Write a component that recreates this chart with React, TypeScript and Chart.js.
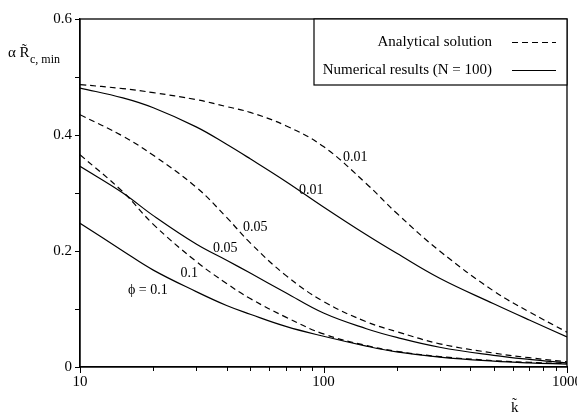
import React, { useEffect, useRef } from "react";
import { Chart, registerables } from "chart.js";

Chart.register(...registerables);

// ---- data ----
const kValues = [10, 15, 20, 30, 40, 50, 70, 100, 150, 200, 300, 500, 700, 1000];

const analytic001 = [0.487, 0.48, 0.473, 0.461, 0.449, 0.439, 0.416, 0.38, 0.316, 0.265, 0.2, 0.131, 0.095, 0.06];
const numeric001 = [0.481, 0.464, 0.447, 0.414, 0.384, 0.359, 0.32, 0.276, 0.228, 0.196, 0.153, 0.109, 0.081, 0.052];
const analytic005 = [0.435, 0.398, 0.365, 0.31, 0.258, 0.214, 0.158, 0.113, 0.078, 0.061, 0.04, 0.024, 0.016, 0.009];
const numeric005 = [0.346, 0.3, 0.261, 0.212, 0.184, 0.162, 0.128, 0.093, 0.066, 0.051, 0.034, 0.02, 0.013, 0.007];
const analytic01 = [0.366, 0.302, 0.246, 0.182, 0.144, 0.118, 0.086, 0.057, 0.037, 0.027, 0.018, 0.011, 0.008, 0.006];
const numeric01 = [0.248, 0.2, 0.167, 0.13, 0.106, 0.091, 0.07, 0.053, 0.036, 0.026, 0.017, 0.01, 0.007, 0.005];

const xMajorTicks = [10, 100, 1000];
const xMinorTicks = [20, 30, 40, 50, 60, 70, 80, 90, 200, 300, 400, 500, 600, 700, 800, 900];

const legendLabels = ["Analytical solution", "Numerical results (N = 100)"];

const curveLabels = [
  { text: "0.01", k: 135, v: 0.361 },
  { text: "0.01", k: 89, v: 0.305 },
  { text: "0.05", k: 52.5, v: 0.24 },
  { text: "0.05", k: 39.5, v: 0.205 },
  { text: "0.1", k: 28.1, v: 0.162 },
  { text: "\u03D5 = 0.1", k: 19.0, v: 0.133 },
];

const SERIF = "'Liberation Serif', 'Times New Roman', serif";
const DASH = [6, 4];

const toPoints = (vals: number[]) => vals.map((v, i) => ({ x: kValues[i], y: v }));

const decorPlugin = {
  id: "decor",
  afterDraw(chart: any) {
    const { ctx, chartArea } = chart;
    const xs = chart.scales.x;
    const { left, right, top, bottom } = chartArea;
    ctx.save();
    ctx.strokeStyle = "#000";
    ctx.fillStyle = "#000";
    ctx.lineWidth = 1.3;
    // frame
    ctx.strokeRect(left, top, right - left, bottom - top);

    // x ticks
    ctx.lineWidth = 1;
    const drawTick = (v: number, len: number) => {
      const px = Math.round(xs.getPixelForValue(v)) + 0.5;
      ctx.beginPath();
      ctx.moveTo(px, bottom);
      ctx.lineTo(px, bottom + len);
      ctx.stroke();
    };
    xMajorTicks.forEach((v) => drawTick(v, 6));
    xMinorTicks.forEach((v) => drawTick(v, 4));

    ctx.font = `15px ${SERIF}`;
    ctx.textAlign = "center";
    ctx.textBaseline = "top";
    xMajorTicks.forEach((v) => {
      ctx.fillText(String(v), xs.getPixelForValue(v), bottom + 8);
    });

    // curve labels
    const ys = chart.scales.y;
    ctx.font = `14px ${SERIF}`;
    ctx.textAlign = "center";
    ctx.textBaseline = "middle";
    curveLabels.forEach((l) => {
      ctx.fillText(l.text, xs.getPixelForValue(l.k), ys.getPixelForValue(l.v));
    });

    // legend box
    const lx0 = 314;
    const ly0 = top;
    const ly1 = 85;
    ctx.lineWidth = 1.2;
    ctx.fillStyle = "#fff";
    ctx.fillRect(lx0, ly0, right - lx0, ly1 - ly0);
    ctx.strokeRect(lx0, ly0, right - lx0, ly1 - ly0);
    ctx.fillStyle = "#000";
    ctx.font = `15px ${SERIF}`;
    ctx.textAlign = "right";
    ctx.textBaseline = "middle";
    const rows = [42, 70];
    legendLabels.forEach((t, i) => {
      ctx.fillText(t, 492, rows[i]);
      ctx.beginPath();
      ctx.setLineDash(i === 0 ? DASH : []);
      ctx.moveTo(512, rows[i] + 0.5);
      ctx.lineTo(556, rows[i] + 0.5);
      ctx.stroke();
    });
    ctx.setLineDash([]);

    // axis titles
    ctx.textAlign = "left";
    ctx.textBaseline = "alphabetic";
    ctx.font = `15px ${SERIF}`;
    ctx.fillText("\u03B1 R\u0303", 8, 57);
    ctx.font = `12px ${SERIF}`;
    ctx.fillText("c, min", 30, 63);
    ctx.font = `15px ${SERIF}`;
    ctx.fillText("k\u0303", 511, 412);
    ctx.restore();
  },
};

export default function App() {
  const ref = useRef<HTMLCanvasElement>(null);
  useEffect(() => {
    if (!ref.current) return;
    const line = (data: number[], dashed: boolean) => ({
      data: toPoints(data),
      borderColor: "#000",
      borderWidth: 1.2,
      borderDash: dashed ? DASH : [],
      pointRadius: 0,
      fill: false,
      tension: 0.4,
    });
    const chart = new Chart(ref.current, {
      type: "line",
      data: {
        datasets: [
          line(analytic001, true),
          line(numeric001, false),
          line(analytic005, true),
          line(numeric005, false),
          line(analytic01, true),
          line(numeric01, false),
        ],
      },
      options: {
        responsive: false,
        animation: false,
        layout: { padding: { left: 0, right: 10, top: 19, bottom: 51 } },
        plugins: { legend: { display: false }, tooltip: { enabled: false } },
        scales: {
          x: {
            type: "logarithmic",
            min: 10,
            max: 1000,
            grid: { display: false },
            border: { display: true, color: "#000", width: 1.3 },
            ticks: { display: false },
            afterFit: (s: any) => {
              s.height = 0;
            },
          },
          y: {
            min: 0,
            max: 0.6,
            grid: { display: true, drawOnChartArea: false, drawTicks: true, tickLength: 5, color: "#000" },
            border: { display: true, color: "#000", width: 1.3 },
            ticks: {
              stepSize: 0.1,
              padding: 3,
              color: "#000",
              font: { family: SERIF, size: 15 },
              callback: (v: any) => {
                const n = Math.round(Number(v) * 10);
                if (n % 2 !== 0) return "";
                return n === 0 ? "0" : (n / 10).toFixed(1);
              },
            },
            afterFit: (s: any) => {
              s.width = 80;
            },
          },
        },
      },
      plugins: [decorPlugin],
    });
    return () => chart.destroy();
  }, []);
  return (
    <div style={{ position: "fixed", left: 0, top: 0, width: 577, height: 418, background: "#fff" }}>
      <canvas ref={ref} width={577} height={418} />
    </div>
  );
}
